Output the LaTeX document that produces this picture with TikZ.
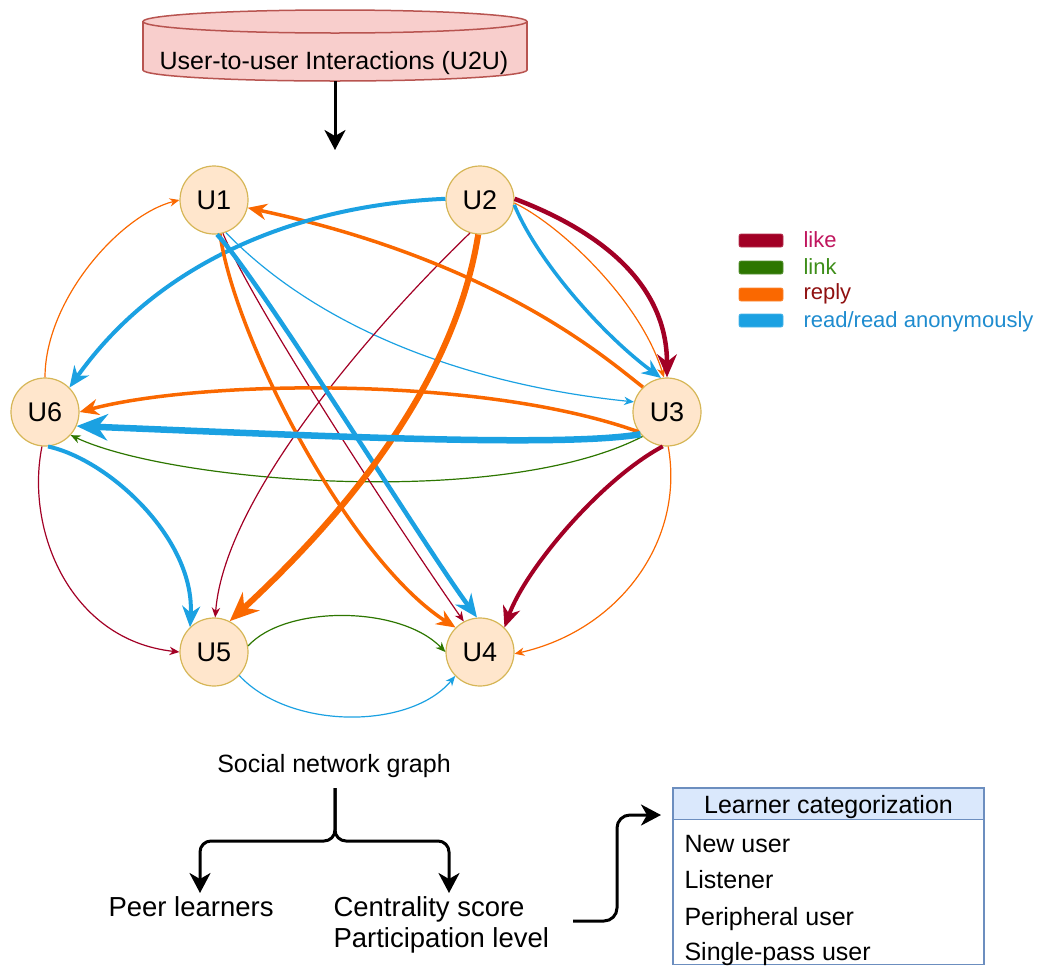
\documentclass[tikz,border=0pt]{standalone}
\usepackage{fontspec}
\setmainfont{Liberation Sans}
\usetikzlibrary{arrows.meta}

\definecolor{likec}{HTML}{A20025}
\definecolor{linkc}{HTML}{2D7600}
\definecolor{replyc}{HTML}{FA6800}
\definecolor{readc}{HTML}{1BA1E2}
\definecolor{liketxt}{HTML}{C0165E}
\definecolor{linktxt}{HTML}{3E8E1A}
\definecolor{replytxt}{HTML}{8F1010}
\definecolor{readtxt}{HTML}{1F8CCF}
\definecolor{userfill}{HTML}{FFE6CC}
\definecolor{userline}{HTML}{D6B656}
\definecolor{cylfill}{HTML}{F8CECC}
\definecolor{cylline}{HTML}{B85450}
\definecolor{hdrfill}{HTML}{DAE8FC}
\definecolor{hdrline}{HTML}{6C8EBF}

\tikzset{
  user/.style={circle, fill=userfill, draw=userline, line width=1.2pt,
    minimum size=68pt, inner sep=0pt, font=\fontsize{27}{32}\selectfont},
  ctip/.style={-{Stealth[length=5pt 4, width'=0pt 0.85, inset'=0pt 0.32]}},
  wa/.style={ctip, line width=1.2pt},
  wb/.style={ctip, line width=3.5pt},
  wc/.style={ctip, line width=4pt},
  wd/.style={ctip, line width=4.5pt},
  we/.style={ctip, line width=6pt},
  wf/.style={ctip, line width=6.5pt},
  blk/.style={line width=3pt, -{Stealth[length=20pt, width=21pt, inset=6pt]}},
  swatch/.style={rounded corners=2pt, line width=0.8pt},
  legtxt/.style={anchor=base west, font=\fontsize{22}{26}\selectfont},
  bigtxt/.style={font=\fontsize{25}{30}\selectfont},
  lowtxt/.style={anchor=base west, font=\fontsize{27.5}{33}\selectfont},
}

\begin{document}
\begin{tikzpicture}[x=1pt, y=-1pt]
\useasboundingbox (0,0) rectangle (1039,967);

% ---- data store cylinder ----
\fill[cylfill] (335,70) ellipse [x radius=192, y radius=11];
\draw[cylline, line width=1.5pt] (335,70) ellipse [x radius=192, y radius=11];
\fill[cylfill] (143,21.5) rectangle (527,70);
\draw[cylline, line width=1.5pt] (143,21.5) -- (143,70) (527,21.5) -- (527,70);
\filldraw[fill=cylfill, draw=cylline, line width=1.5pt] (335,21.5) ellipse [x radius=192, y radius=11.5];
\node[bigtxt, anchor=base] (u2u) at (334,69) {User-to-user Interactions (U2U)};
\coordinate (cylbot) at (335,81);
\coordinate (graphtop) at (335,150);
\draw[blk] (cylbot) -- (graphtop);

% ---- users ----
\node[user] (u1) at (214,200) {U1};
\node[user] (u2) at (480,200) {U2};
\node[user] (u3) at (667,412) {U3};
\node[user] (u4) at (480,652) {U4};
\node[user] (u5) at (214,652) {U5};
\node[user] (u6) at (45,412) {U6};

% ---- thin interactions ----
\draw[wa, replyc] (u2.-5) .. controls (560,225) and (640,300) .. (u3.95);
\draw[wa, readc] (u1.-70) .. controls (320,330) and (470,385) .. (u3.163);
\draw[wa, linkc] (u3.225) .. controls (500,510) and (170,482) .. (u6.-42);
\draw[wa, replyc] (u6.90) .. controls (45,300) and (120,215) .. (u1.180);
\draw[wa, likec] (u1.-75) .. controls (255,310) and (400,530) .. (u4.118);
\draw[wa, likec] (u2.-107) .. controls (390,310) and (225,490) .. (u5.88);
\draw[wa, replyc] (u3.-88) .. controls (685,540) and (620,630) .. (u4.-3);
\draw[wa, likec] (u6.-95) .. controls (25,530) and (70,640) .. (u5.180);
\draw[wa, linkc] (u5.10) .. controls (285,605) and (400,605) .. (u4.180);
\draw[wa, readc] (u5.-43) .. controls (290,730) and (410,730) .. (u4.-136);

% ---- medium interactions ----
\draw[wb, readc] (u2.-8) .. controls (538,262) and (603,335) .. (u3.100);
\draw[wb, replyc] (u3.134) .. controls (610,362) and (500,262) .. (u1.-13);
\draw[wc, readc] (u2.178) .. controls (300,205) and (160,260) .. (u6.45);
\draw[wb, replyc] (u3.215) .. controls (480,375) and (200,380) .. (u6.0);
\draw[wb, replyc] (u1.-80) .. controls (235,340) and (350,560) .. (u4.135);
\draw[wc, likec] (u3.-97) .. controls (600,480) and (525,570) .. (u4.45);
\draw[wc, readc] (u6.-85) .. controls (110,460) and (195,540) .. (u5.134);

% ---- heavy interactions ----
\draw[wd, likec] (u2.2) .. controls (610,235) and (667,290) .. (u3.90);
\draw[wd, readc] (u1.-85) .. controls (260,280) and (420,540) .. (u4.95);
\draw[we, replyc] (u2.-93) .. controls (455,380) and (350,510) .. (u5.63);
\draw[wf, readc] (u3.220) .. controls (560,448) and (300,435) .. (u6.-24);

% ---- legend ----
\filldraw[swatch, fill=likec, draw=likec!80!white] (739,234) rectangle (783,247);
\filldraw[swatch, fill=linkc, draw=linkc!80!white] (739,261) rectangle (783,274);
\filldraw[swatch, fill=replyc, draw=replyc!80!white] (739,288) rectangle (783,301);
\filldraw[swatch, fill=readc, draw=readc!80!white] (739,314) rectangle (783,327);
\node[legtxt, text=liketxt] (lglike) at (800,247) {like};
\node[legtxt, text=linktxt] (lglink) at (800,274) {link};
\node[legtxt, text=replytxt] (lgreply) at (800,299) {reply};
\node[legtxt, text=readtxt] (lgread) at (800,327) {read/read anonymously};

% ---- analysis outputs ----
\node[bigtxt, anchor=base] (sng) at (334,772) {Social network graph};
\node[lowtxt] (peer) at (105,916) {Peer learners};
\node[lowtxt] (cent) at (330,916) {Centrality score};
\node[lowtxt] (part) at (330,947) {Participation level};
\coordinate (brtop) at (335,788);
\coordinate (peertop) at (200,893);
\coordinate (centtop) at (449,893);
\draw[blk, rounded corners=11pt] (brtop) -- (335,841) -- (200,841) -- (peertop);
\draw[blk, rounded corners=11pt] (brtop) -- (335,841) -- (449,841) -- (centtop);

% ---- learner categorization ----
\filldraw[fill=white, draw=hdrline, line width=1.2pt] (673,819.5) rectangle (984,964.5);
\filldraw[fill=hdrfill, draw=hdrline, line width=1.2pt] (673,788) rectangle (984,819.5);
\node[bigtxt, anchor=base] (lchead) at (828.5,813) {Learner categorization};
\node[bigtxt, anchor=base west] (lc1) at (681,852) {New user};
\node[bigtxt, anchor=base west] (lc2) at (681,888) {Listener};
\node[bigtxt, anchor=base west] (lc3) at (681,925) {Peripheral user};
\node[bigtxt, anchor=base west] (lc4) at (681,960) {Single-pass user};

\coordinate (outstart) at (573,921);
\coordinate (lcin) at (661,815);
\draw[blk, rounded corners=13pt] (outstart) -- (617,921) -- (617,815) -- (lcin);
\end{tikzpicture}
\end{document}
